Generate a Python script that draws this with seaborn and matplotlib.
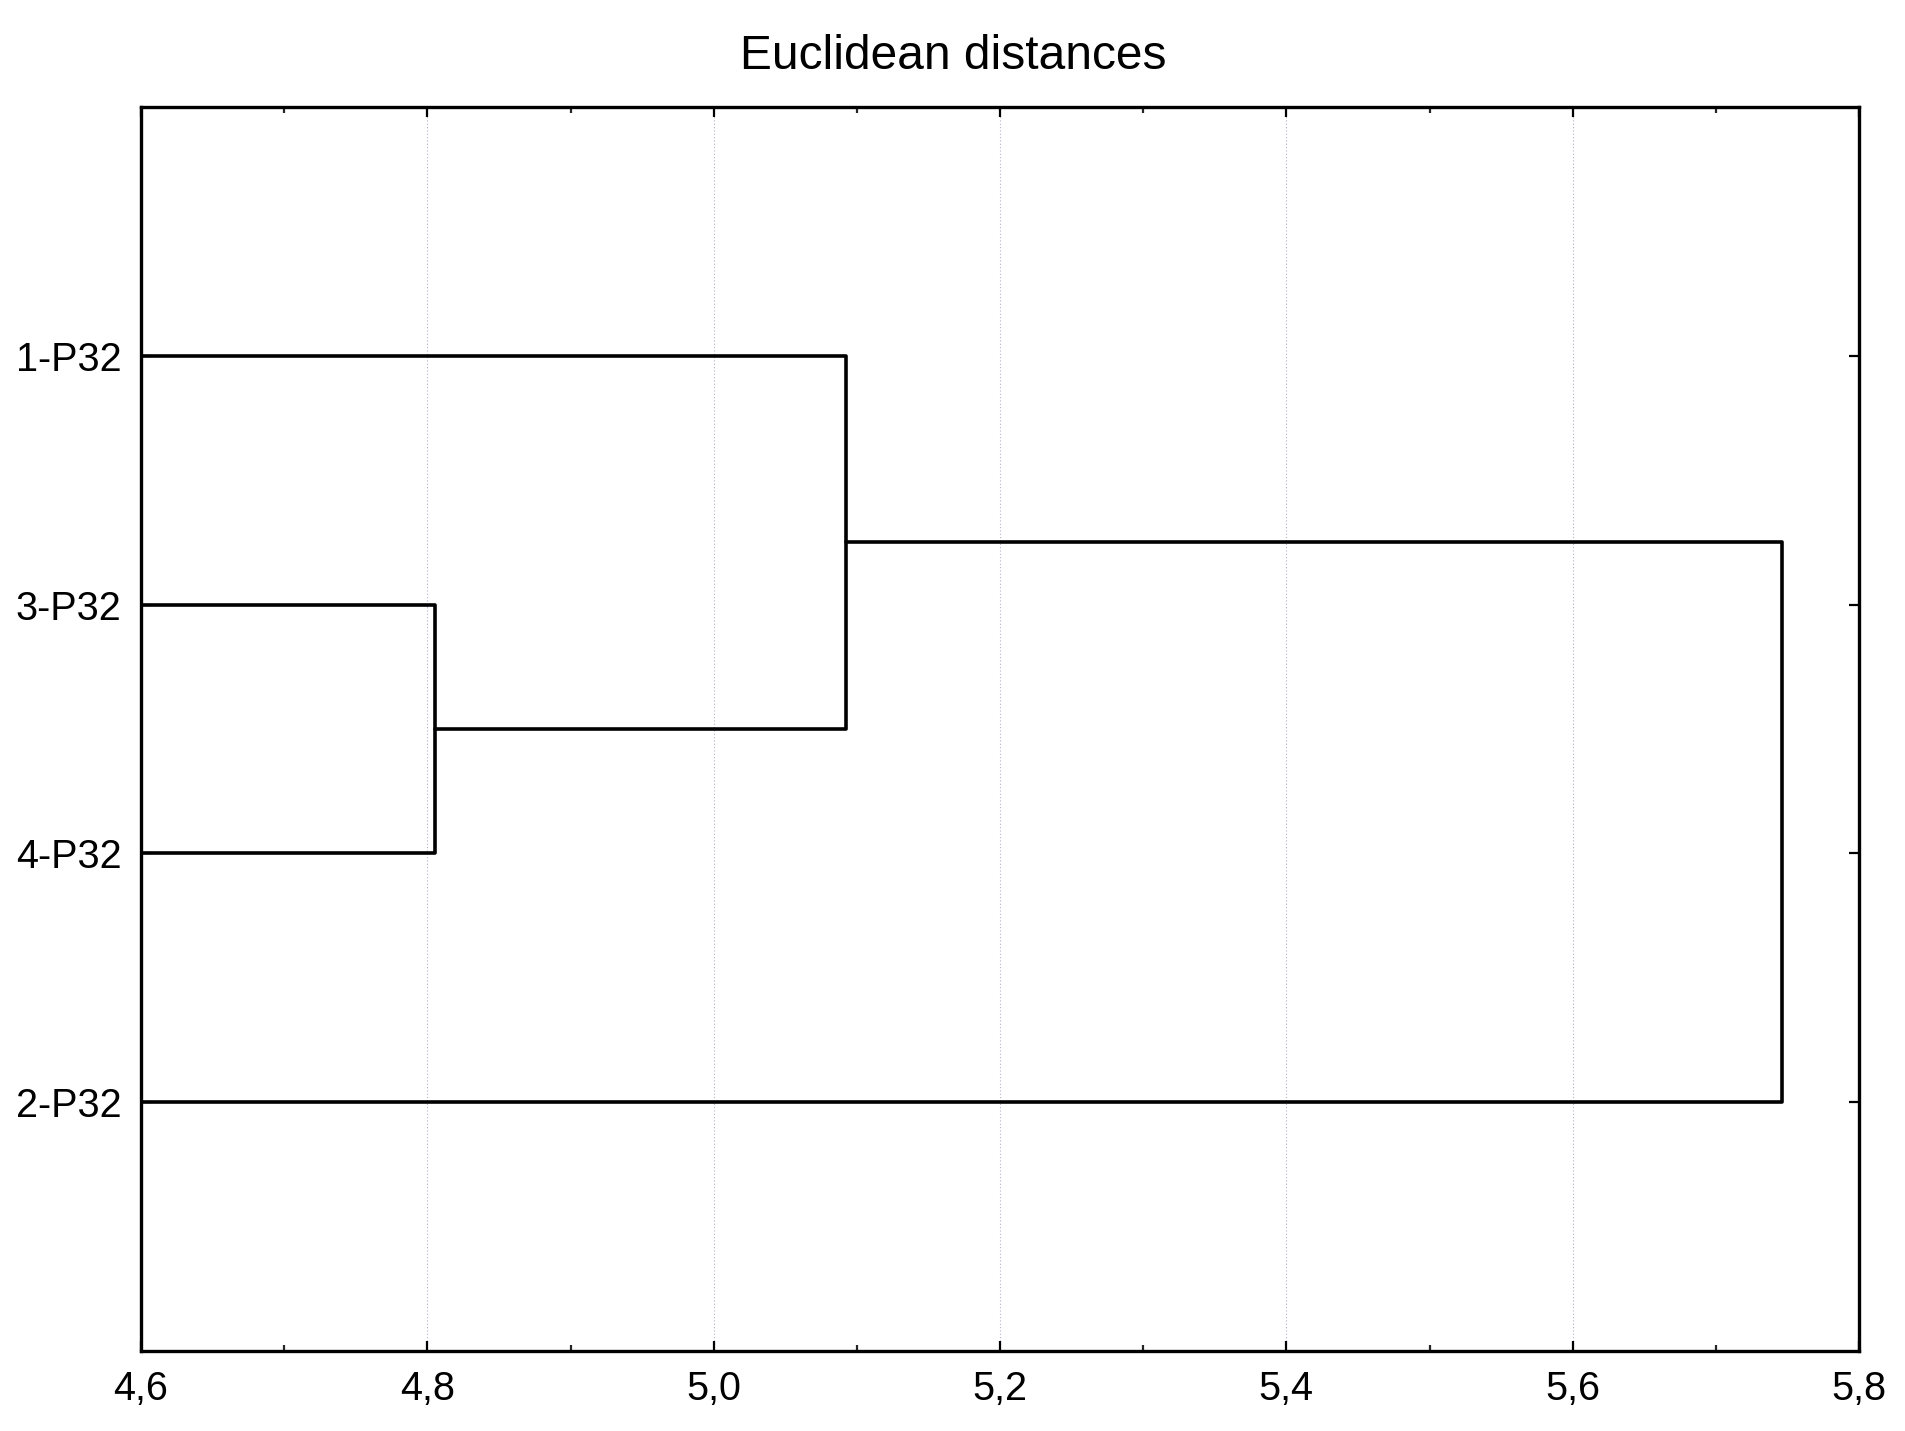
import matplotlib
matplotlib.use("Agg")
import matplotlib.pyplot as plt
import seaborn as sns
import pandas as pd
from matplotlib.ticker import MultipleLocator, FuncFormatter

# ---- data ----
leaf_labels = ["1-P32", "3-P32", "4-P32", "2-P32"]
leaf_positions = [1, 2, 3, 4]
# merges: (left child, right child, linkage distance)
merge_left = ["3-P32", "1-P32", "C2"]
merge_right = ["4-P32", "C1", "2-P32"]
merge_names = ["C1", "C2", "C3"]
merge_dist = [4.8055, 5.0926, 5.7465]
title = "Euclidean distances"

# ---- build dendrogram segments ----
node_y = {lab: p for lab, p in zip(leaf_labels, leaf_positions)}
node_h = {lab: 0.0 for lab in leaf_labels}
rows = []
for k, (a, b, name, h) in enumerate(zip(merge_left, merge_right, merge_names, merge_dist)):
    ya, yb = node_y[a], node_y[b]
    pts = [(node_h[a], ya), (h, ya), (h, yb), (node_h[b], yb)]
    for order, (xx, yy) in enumerate(pts):
        rows.append({"seg": k, "order": order, "x": xx, "y": yy})
    node_y[name] = (ya + yb) / 2.0
    node_h[name] = h
df = pd.DataFrame(rows)

sns.set_theme(style="white")
plt.rcParams["font.family"] = ["Liberation Sans", "DejaVu Sans"]

W, H = 1906, 1431
fig = plt.figure(figsize=(W / 100, H / 100), dpi=100)
ax = fig.add_axes([141 / W, 1 - 1351 / H, 1718 / W, 1244 / H])

sns.lineplot(data=df, x="x", y="y", units="seg", estimator=None, sort=False,
             color="black", linewidth=2.6, ax=ax, legend=False)

ax.set_xlim(4.6, 5.8)
ax.set_ylim(5, 0)
ax.set_xlabel("")
ax.set_ylabel("")

ax.xaxis.set_major_locator(MultipleLocator(0.2))
ax.xaxis.set_minor_locator(MultipleLocator(0.1))
ax.xaxis.set_major_formatter(FuncFormatter(lambda v, p: f"{v:.1f}".replace(".", ",")))
ax.set_yticks(leaf_positions)
ax.set_yticklabels(leaf_labels)

ax.tick_params(axis="x", which="major", direction="in", length=7, width=1.6,
               top=True, bottom=True, labelsize=28.5, pad=14, colors="black")
ax.tick_params(axis="x", which="minor", direction="in", length=4, width=1.6,
               top=True, bottom=True)
ax.tick_params(axis="y", which="major", direction="in", length=7, width=1.6,
               left=True, right=True, labelsize=28.5, pad=14, colors="black")

ax.grid(False)
ax.xaxis.grid(True, which="major", linestyle=(0, (1, 2)), color="#b8b0cc", linewidth=0.8)
ax.set_axisbelow(True)

for s in ax.spines.values():
    s.set_visible(True)
    s.set_color("black")
    s.set_linewidth(2.4)

fig.text(0.5, 1 - 69 / H, title, ha="center", va="baseline", fontsize=34.5, color="black")

fig.savefig("out.png", dpi=100, facecolor="white")
